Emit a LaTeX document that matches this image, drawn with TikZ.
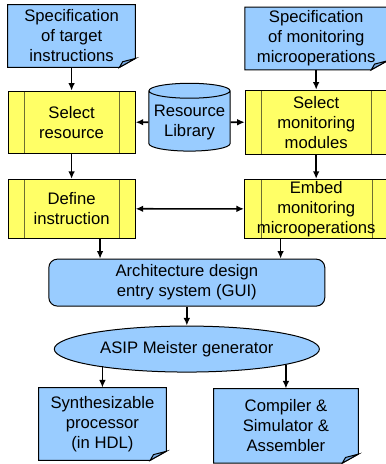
\documentclass[tikz,border=0pt]{standalone}
\usepackage{fontspec}
\setmainfont{Liberation Sans}
\usepackage{tikz}
\usetikzlibrary{shapes.geometric, arrows.meta, positioning, calc, backgrounds}

\definecolor{docblue}{RGB}{153,204,255}
\definecolor{folddark}{RGB}{120,170,225}
\definecolor{selyellow}{RGB}{255,255,102}
\definecolor{innerline}{RGB}{110,110,50}

% page outline with a turned-up corner, drawn behind a node
\newcommand{\docframe}[1]{%
  \begin{scope}[on background layer]
    \filldraw[fill=docblue, draw=black, semithick] (#1.north west) -- (#1.north east) -- ([yshift=0.19cm]#1.south east) -- ([xshift=-0.34cm]#1.south east) -- (#1.south west) -- cycle;
    \filldraw[fill=folddark, draw=black, semithick] ([xshift=-0.34cm]#1.south east) -- ([xshift=-0.27cm,yshift=0.12cm]#1.south east) -- ([yshift=0.19cm]#1.south east) -- cycle;
  \end{scope}}

\begin{document}
\begin{tikzpicture}[
    font=\fontsize{10}{12}\selectfont,
    docbox/.style={rectangle, minimum width=2.68cm, minimum height=1.31cm, text centered, align=center, inner sep=1pt},
    selectbox/.style={rectangle, minimum width=2.68cm, minimum height=1.31cm, text centered, align=center, draw=black, semithick, fill=selyellow, inner sep=1pt,
        path picture={\draw[innerline, semithick] ([xshift=0.35cm]path picture bounding box.north west) -- ([xshift=0.35cm]path picture bounding box.south west);
                      \draw[innerline, semithick] ([xshift=-0.33cm]path picture bounding box.north east) -- ([xshift=-0.33cm]path picture bounding box.south east);}},
    library/.style={cylinder, shape border rotate=90, aspect=0.2, minimum width=1.71cm, minimum height=1.43cm, text centered, align=center, draw=black, semithick, fill=docblue, inner sep=1pt},
    guibox/.style={rectangle, rounded corners=0.18cm, minimum width=5.82cm, minimum height=0.99cm, text centered, align=center, draw=black, semithick, fill=docblue},
    generator/.style={ellipse, minimum width=5.59cm, minimum height=0.97cm, inner sep=0pt, text centered, draw=black, semithick, fill=docblue},
    arrow/.style={line width=1pt, -{Latex[length=1.6mm, width=1.4mm]}},
    biarrow/.style={line width=1pt, {Latex[length=1.6mm, width=1.4mm]}-{Latex[length=1.6mm, width=1.4mm]}}
]
\useasboundingbox (0,0) rectangle (8.14,-9.785);

% Nodes
\node (spectgt) [docbox] at (1.51,-0.76) {Specification\\of target\\instructions};

\node (selres) [selectbox, below=0.49cm of spectgt] {Select\\resource};

\node (defins) [selectbox, minimum height=1.24cm, below=0.53cm of selres] {Define\\instruction};

\node (reslib) [library, right=0.27cm of selres] {Resource\\Library};

\node (selmon) [selectbox, minimum width=2.99cm, minimum height=1.35cm, right=0.30cm of reslib] {Select\\monitoring\\modules};

\node (specmon) [docbox, minimum width=2.99cm, above=0.42cm of selmon] {Specification\\of monitoring\\microoperations};

\node (embed) [selectbox, minimum width=3.02cm, minimum height=1.24cm, below=0.51cm of selmon] {Embed\\monitoring\\microoperations};

\node (gui) [guibox] at (3.94,-5.96) {Architecture design\\entry system (GUI)};

\node (asip) [generator, below=0.40cm of gui] {ASIP Meister generator};

\node (synth) [docbox, minimum height=1.52cm] at (2.16,-8.94) {Synthesizable\\processor\\(in HDL)};

\node (compiler) [docbox, minimum width=3.04cm, minimum height=1.56cm] at (6.03,-8.98) {Compiler \&\\Simulator \&\\Assembler};

\docframe{spectgt}
\docframe{specmon}
\docframe{synth}
\docframe{compiler}

% Arrows
\draw [arrow] (spectgt) -- (selres);
\draw [arrow] (specmon) -- (selmon);
\draw [arrow] (reslib) -- (selres);
\draw [arrow] (reslib) -- (selmon);
\draw [arrow] (selres) -- (defins);
\draw [arrow] (selmon) -- (embed);
\draw [biarrow] (defins) -- (embed);
\draw [arrow] ([xshift=0.6cm]defins.south) -- ([xshift=0.6cm]defins.south |- gui.north);
\draw [arrow] ([xshift=-0.75cm]embed.south) -- ([xshift=-0.75cm]embed.south |- gui.north);
\draw [arrow] (gui) -- (asip);
\draw [arrow] (synth.north |- asip.191) -- (synth);
\draw [arrow] (compiler.north |- asip.351) -- (compiler);

\end{tikzpicture}
\end{document}
